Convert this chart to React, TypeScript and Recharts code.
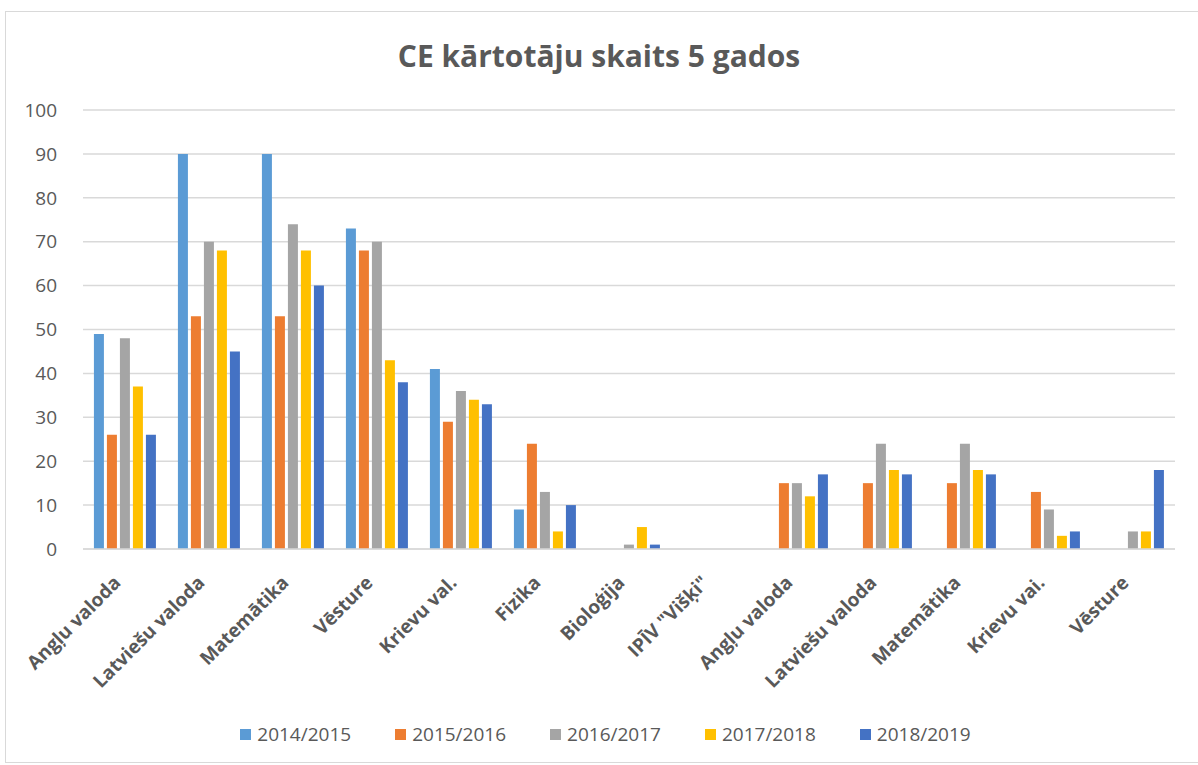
import React from "react";
import { Bar, BarChart, CartesianGrid, Legend, XAxis, YAxis } from "recharts";

const categories = [
  "Angļu valoda",
  "Latviešu valoda",
  "Matemātika",
  "Vēsture",
  "Krievu val.",
  "Fizika",
  "Bioloģija",
  'IPĪV "Višķi"',
  "Angļu valoda",
  "Latviešu valoda",
  "Matemātika",
  "Krievu vai.",
  "Vēsture",
];

const years = ["2014/2015", "2015/2016", "2016/2017", "2017/2018", "2018/2019"];
const colors = ["#5B9BD5", "#ED7D31", "#A5A5A5", "#FFC000", "#4472C4"];

const y2014 = [49, 90, 90, 73, 41, 9, 0, 0, 0, 0, 0, 0, 0];
const y2015 = [26, 53, 53, 68, 29, 24, 0, 0, 15, 15, 15, 13, 0];
const y2016 = [48, 70, 74, 70, 36, 13, 1, 0, 15, 24, 24, 9, 4];
const y2017 = [37, 68, 68, 43, 34, 4, 5, 0, 12, 18, 18, 3, 4];
const y2018 = [26, 45, 60, 38, 33, 10, 1, 0, 17, 17, 17, 4, 18];

const yTicks = [0, 10, 20, 30, 40, 50, 60, 70, 80, 90, 100];

const series = [y2014, y2015, y2016, y2017, y2018];

const data = categories.map((name, i) => {
  const row: Record<string, number | string> = { idx: i, name };
  years.forEach((yr, s) => {
    row[yr] = series[s][i];
  });
  return row;
});

const FONT = "'Open Sans', 'Liberation Sans', sans-serif";
const TEXT = "#595959";

function CategoryTick(props: any) {
  const { x, y, payload } = props;
  const label = categories[payload.value] ?? "";
  return (
    <g transform={`translate(${x - 8},${y + 22})`}>
      <text
        transform="rotate(-45)"
        textAnchor="end"
        dominantBaseline="central"
        fill={TEXT}
        fontFamily={FONT}
        fontSize={19}
        fontWeight={700}
      >
        {label}
      </text>
    </g>
  );
}

function LegendContent() {
  return (
    <div
      style={{
        display: "flex",
        justifyContent: "center",
        gap: 44,
        fontFamily: FONT,
        fontSize: 19,
        color: TEXT,
        marginLeft: 36,
      }}
    >
      {years.map((yr, i) => (
        <div key={yr} style={{ display: "flex", alignItems: "center" }}>
          <span
            style={{
              display: "inline-block",
              width: 11,
              height: 11,
              background: colors[i],
              marginRight: 6,
            }}
          />
          {yr}
        </div>
      ))}
    </div>
  );
}

export default function App() {
  return (
    <div style={{ position: "absolute", left: 0, top: 0, width: 1198, height: 765, background: "#fff" }}>
      <div
        style={{
          position: "absolute",
          left: 5,
          top: 11,
          width: 1200,
          height: 750,
          border: "1px solid #D9D9D9",
        }}
      />
      <div
        style={{
          position: "absolute",
          left: 0,
          top: 35,
          width: 1198,
          textAlign: "center",
          fontFamily: FONT,
          fontSize: 30,
          fontWeight: 700,
          color: TEXT,
          lineHeight: "42px",
        }}
      >
        CE kārtotāju skaits 5 gados
      </div>
      <div style={{ position: "absolute", left: 0, top: 0 }}>
        <BarChart
          width={1198}
          height={765}
          data={data}
          margin={{ top: 110, right: 23, bottom: 18, left: 0 }}
          barCategoryGap="13%"
          barGap={3}
        >
          <CartesianGrid vertical={false} stroke="#D9D9D9" strokeWidth={1.5} />
          <XAxis
            dataKey="idx"
            type="category"
            tick={<CategoryTick />}
            tickLine={false}
            axisLine={{ stroke: "#D9D9D9", strokeWidth: 1.5 }}
            interval={0}
            height={172}
          />
          <YAxis
            domain={[0, 100]}
            ticks={yTicks}
            width={83}
            axisLine={false}
            tickLine={false}
            tickMargin={20}
            tick={{ fill: TEXT, fontFamily: FONT, fontSize: 19 }}
          />
          <Legend verticalAlign="bottom" content={<LegendContent />} />
          {years.map((yr, i) => (
            <Bar key={yr} dataKey={yr} fill={colors[i]} isAnimationActive={false} />
          ))}
        </BarChart>
      </div>
    </div>
  );
}
